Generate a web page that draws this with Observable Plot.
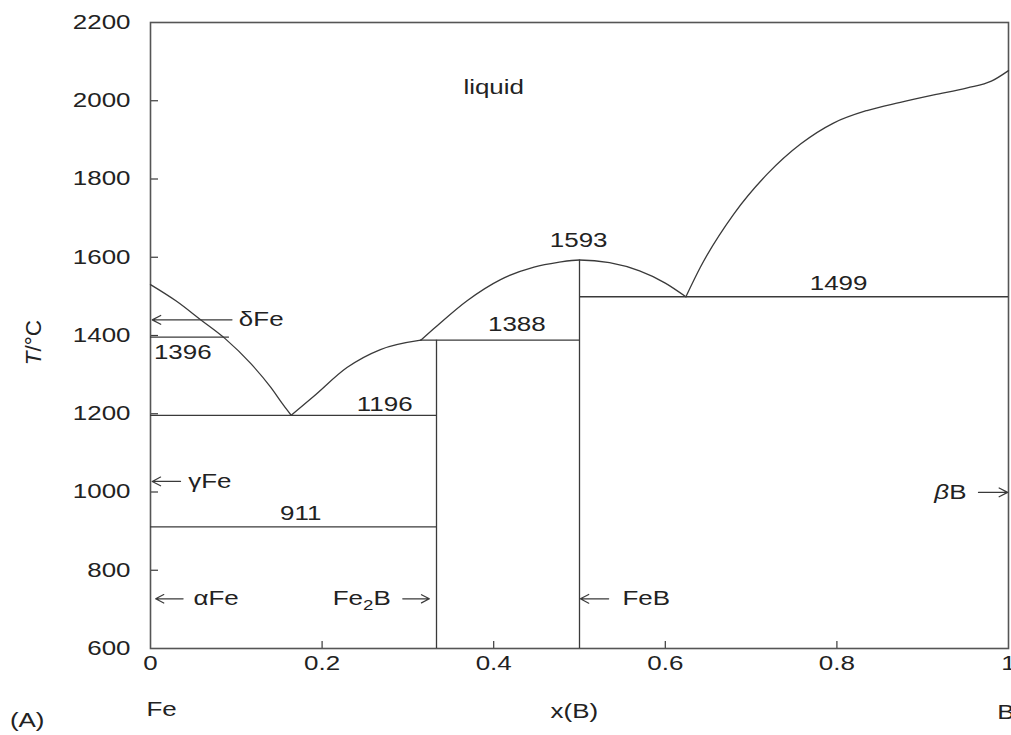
<!DOCTYPE html>
<html><head><meta charset="utf-8">
<script src="https://cdn.jsdelivr.net/npm/d3@7"></script>
<script src="https://cdn.jsdelivr.net/npm/@observablehq/plot@0.6"></script>
<style>
body{margin:0;background:#fff}
svg{font-family:"Liberation Sans",Arial,Helvetica,sans-serif}
</style>
</head><body><div id="chart"></div>
<script>
// Axis ticks
const xTickValues = [0, 0.2, 0.4, 0.6, 0.8, 1];
const yTickValues = [600, 800, 1000, 1200, 1400, 1600, 1800, 2000, 2200];

// Liquidus curves (x(B), T/°C)
const liqFeX = [0, 0.03, 0.058, 0.087, 0.117, 0.140, 0.155, 0.164];
const liqFeT = [1530, 1488, 1441, 1392, 1328, 1268, 1222, 1196];
const liqFe2BX = [0.164, 0.190, 0.229, 0.268, 0.315];
const liqFe2BT = [1196, 1244, 1318, 1364, 1388];
const liqFeBX = [0.315, 0.330, 0.369, 0.408, 0.447, 0.475, 0.5, 0.535, 0.570, 0.600, 0.624];
const liqFeBT = [1388, 1417, 1489, 1543, 1575, 1587, 1593, 1586, 1565, 1534, 1499];
const liqBX = [0.624, 0.641, 0.680, 0.719, 0.758, 0.796, 0.835, 0.874, 0.913, 0.952, 0.980, 1.0];
const liqBT = [1499, 1575, 1711, 1813, 1890, 1943, 1975, 1996, 2015, 2033, 2050, 2077];

// Isotherms
const isoT  = [1396, 1196, 911, 1388, 1499];
const isoX1 = [0, 0, 0, 0.315, 0.5];
const isoX2 = [0.092, 1/3, 1/3, 0.5, 1];

// Compound lines (Fe2B, FeB)
const compX = [1/3, 0.5];
const compBottom = [600, 600];
const compTop = [1388, 1593];

// Value labels
const valText = ["liquid", "1593", "1388", "1499", "1196", "911"];
const valX = [0.40, 0.499, 0.427, 0.802, 0.273, 0.175];
const valT = [2034, 1641, 1428, 1533, 1224, 944];
const startText = ["1396"];
const startX = [0.004];
const startT = [1357];

// Phase arrows
const phaseName = ["δFe", "γFe", "αFe", "Fe2B", "FeB", "βB"];
const arrowX1 = [0.095, 0.035, 0.038, 0.294, 0.534, 0.965];
const arrowX2 = [0.002, 0.002, 0.006, 0.325, 0.501, 0.999];
const arrowT  = [1440, 1027, 727, 727, 727, 999];
const phaseX  = [0.103, 0.044, 0.050, 0.280, 0.550, 0.951];
const phaseAnchor = ["start", "start", "start", "end", "start", "end"];

// Outer labels
const outerText = ["Fe", "x(B)", "B", "(A)"];
const outerX = [0.013, 0.494, 0.997, -0.1437];
const outerT = [444, 439, 436, 416];

const zipXT = (xs, ts) => xs.map((x, i) => ({x, T: ts[i]}));
const curves = [zipXT(liqFeX, liqFeT), zipXT(liqFe2BX, liqFe2BT), zipXT(liqFeBX, liqFeBT), zipXT(liqBX, liqBT)];
const isotherms = isoT.map((T, i) => ({T, x1: isoX1[i], x2: isoX2[i]}));
const compounds = compX.map((x, i) => ({x, y1: compBottom[i], y2: compTop[i]}));
const values = valText.map((t, i) => ({t, x: valX[i], T: valT[i]}));
const starts = startText.map((t, i) => ({t, x: startX[i], T: startT[i]}));
const arrows = phaseName.map((t, i) => ({t, x1: arrowX1[i], x2: arrowX2[i], T: arrowT[i], tx: phaseX[i], anchor: phaseAnchor[i]}));
const outer = outerText.map((t, i) => ({t, x: outerX[i], T: outerT[i]}));

const ink = "#3a3a3a";
const txt = "#222";
const fs = 19.5;

const plot = Plot.plot({
  width: 1011,
  height: 735,
  marginLeft: 150,
  marginRight: 3,
  marginTop: 22,
  marginBottom: 87,
  style: {fontFamily: '"Liberation Sans", Arial, sans-serif', background: "#fff", overflow: "visible"},
  x: {domain: [0, 1], axis: null},
  y: {domain: [600, 2200], axis: null},
  marks: [
    Plot.axisY(yTickValues, {anchor: "left", tickSize: 0, tickPadding: 20, fontSize: fs, fill: txt, label: null, tickFormat: d => String(d)}),
    Plot.axisY(yTickValues.slice(1, -1), {anchor: "left", tickSize: -8, stroke: ink, strokeWidth: 1.2, label: null, tickFormat: () => ""}),
    Plot.axisX(xTickValues, {anchor: "bottom", tickSize: 0, tickPadding: 8, fontSize: fs, fill: txt, label: null, tickFormat: d => String(d)}),
    Plot.axisX(xTickValues.slice(1, -1), {anchor: "bottom", tickSize: -7, stroke: ink, strokeWidth: 1.2, label: null, tickFormat: () => ""}),
    Plot.frame({stroke: "#555", strokeWidth: 1.6}),
    ...curves.map(c => Plot.line(c, {x: "x", y: "T", stroke: ink, strokeWidth: 1.3, curve: "monotone-x"})),
    Plot.ruleY(isotherms, {y: "T", x1: "x1", x2: "x2", stroke: ink, strokeWidth: 1.3}),
    Plot.ruleX(compounds, {x: "x", y1: "y1", y2: "y2", stroke: ink, strokeWidth: 1.3}),
    Plot.text(values, {x: "x", y: "T", text: "t", fontSize: fs, fill: txt}),
    Plot.text(starts, {x: "x", y: "T", text: "t", fontSize: fs, fill: txt, textAnchor: "start"}),
    Plot.arrow(arrows, {x1: "x1", x2: "x2", y1: "T", y2: "T", stroke: ink, strokeWidth: 1.2, headLength: 12, headAngle: 55}),
    Plot.text(arrows.filter(d => d.anchor === "start"), {x: "tx", y: "T", text: "t", textAnchor: "start", fontSize: fs, fill: txt}),
    Plot.text(arrows.filter(d => d.anchor === "end"), {x: "tx", y: "T", text: "t", textAnchor: "end", fontSize: fs, fill: txt}),
    Plot.text(outer, {x: "x", y: "T", text: "t", fontSize: fs, fill: txt}),
    Plot.text(["T/°C"], {x: -0.136, y: 1382, text: d => d, rotate: -90, fontSize: 22.5, fill: txt})
  ]
});
document.getElementById("chart").appendChild(plot);

// rich text touches
d3.select(plot).selectAll("text").each(function() {
  const s = this.textContent;
  if (s === "T/°C") this.innerHTML = '<tspan font-style="italic">T</tspan>/°C';
  else if (s === "Fe2B") this.innerHTML = 'Fe<tspan dy="5" font-size="14">2</tspan><tspan dy="-5">B</tspan>';
  else if (s === "βB") this.innerHTML = '<tspan font-style="italic">β</tspan>B';
});
// horizontal stretch of glyphs, as in the reference
d3.select(plot).selectAll("text").each(function() {
  if (this.textContent === "T/°C") return;
  const len = this.getComputedTextLength();
  if (len > 0) {
    this.setAttribute("textLength", (len * 1.33).toFixed(1));
    this.setAttribute("lengthAdjust", "spacingAndGlyphs");
  }
});
</script>
</body></html>
